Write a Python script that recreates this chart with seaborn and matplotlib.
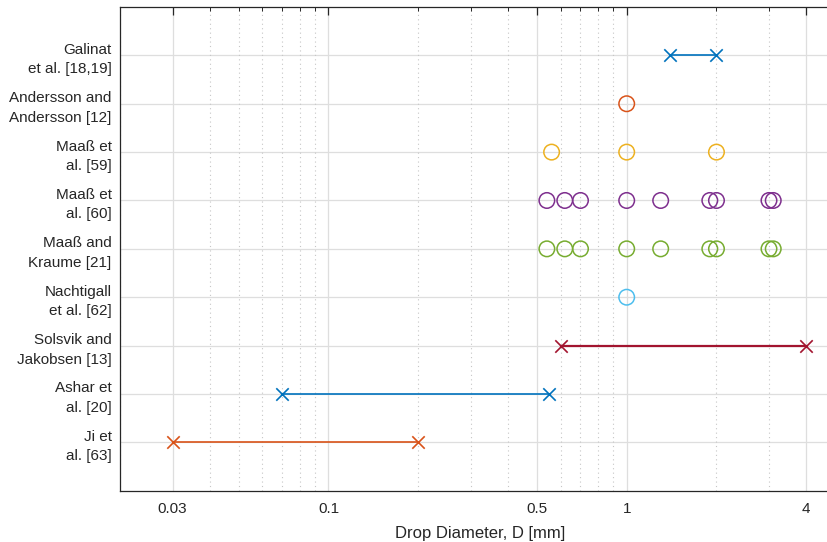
import matplotlib
matplotlib.use("Agg")
import matplotlib.pyplot as plt
import matplotlib.ticker as mticker
import numpy as np
import pandas as pd
import seaborn as sns

# ---------------- data ----------------
studies = ["Galinat\net al. [18,19]", "Andersson and\nAndersson [12]", "Maaß et\nal. [59]",
           "Maaß et\nal. [60]", "Maaß and\nKraume [21]", "Nachtigall\net al. [62]",
           "Solsvik and\nJakobsen [13]", "Ashar et\nal. [20]", "Ji et\nal. [63]"]

# ranges (drawn as line with x markers)
range_studies = ["Galinat\net al. [18,19]", "Solsvik and\nJakobsen [13]", "Ashar et\nal. [20]", "Ji et\nal. [63]"]
range_min = [1.4, 0.6, 0.07, 0.03]
range_max = [2.0, 4.0, 0.55, 0.2]

# discrete points (open circles)
andersson_d = [1.0]
maass59_d = [0.56, 1.0, 2.0]
maass60_d = [0.54, 0.62, 0.70, 1.0, 1.3, 1.9, 2.0, 3.0, 3.1]
maass_kraume_d = [0.54, 0.62, 0.70, 1.0, 1.3, 1.9, 2.0, 3.0, 3.1]
nachtigall_d = [1.0]
point_studies = {"Andersson and\nAndersson [12]": andersson_d,
                 "Maaß et\nal. [59]": maass59_d,
                 "Maaß et\nal. [60]": maass60_d,
                 "Maaß and\nKraume [21]": maass_kraume_d,
                 "Nachtigall\net al. [62]": nachtigall_d}

x_ticks = [0.03, 0.1, 0.5, 1, 4]
x_tick_labels = ["0.03", "0.1", "0.5", "1", "4"]
x_minor = [0.02, 0.04, 0.05, 0.06, 0.07, 0.08, 0.09, 0.2, 0.3, 0.4, 0.6, 0.7, 0.8, 0.9, 2, 3]

colors = {
    "Galinat\net al. [18,19]": (0.0, 0.447, 0.741),
    "Andersson and\nAndersson [12]": (0.850, 0.325, 0.098),
    "Maaß et\nal. [59]": (0.929, 0.694, 0.125),
    "Maaß et\nal. [60]": (0.494, 0.184, 0.556),
    "Maaß and\nKraume [21]": (0.466, 0.674, 0.188),
    "Nachtigall\net al. [62]": (0.301, 0.745, 0.933),
    "Solsvik and\nJakobsen [13]": (0.635, 0.078, 0.184),
    "Ashar et\nal. [20]": (0.0, 0.447, 0.741),
    "Ji et\nal. [63]": (0.850, 0.325, 0.098),
}

# ---------------- plot ----------------
sns.set_theme(style="white")
plt.rcParams['font.family'] = ['Liberation Sans', 'DejaVu Sans']

ypos = {s: len(studies) - i for i, s in enumerate(studies)}

fig = plt.figure(figsize=(8.27, 5.42), dpi=100)
ax = fig.add_axes([120 / 827, (542 - 490.7) / 542, (840 - 120) / 827, (490.7 - 7) / 542])

# grid lines
grid_major = "#dedede"
grid_minor = "#c6c6c6"
for yv in range(1, len(studies) + 1):
    ax.axhline(yv, color=grid_major, lw=0.9, zorder=0)
for xv in x_ticks:
    ax.axvline(xv, color=grid_major, lw=0.9, zorder=0)
for xv in x_minor:
    ax.axvline(xv, color=grid_minor, lw=0.8, ls=(0, (1, 3)), zorder=0)

# ranges
rows = []
for s, a, b in zip(range_studies, range_min, range_max):
    rows.append({"study": s, "D": a, "y": ypos[s]})
    rows.append({"study": s, "D": b, "y": ypos[s]})
df_range = pd.DataFrame(rows)
for s in range_studies:
    sub = df_range[df_range["study"] == s]
    lw = 1.6 if s.startswith("Solsvik") else 1.2
    sns.lineplot(data=sub, x="D", y="y", ax=ax, color=colors[s], linewidth=lw,
                 estimator=None, sort=False, legend=False, zorder=3)
    sns.scatterplot(data=sub, x="D", y="y", ax=ax, marker="x", s=80,
                    color=colors[s], linewidths=1.2, legend=False, zorder=4)

# points
rows = []
for s, vals in point_studies.items():
    for v in vals:
        rows.append({"study": s, "D": v, "y": ypos[s]})
df_pts = pd.DataFrame(rows)
for s in point_studies:
    sub = df_pts[df_pts["study"] == s]
    sns.scatterplot(data=sub, x="D", y="y", ax=ax, marker="o", s=125,
                    facecolors="none", edgecolors=[colors[s]], linewidths=1.1,
                    legend=False, zorder=3)

ax.set_xscale("log")
# right edge lies just beyond the canvas (cropped like the reference)
ax.set_xlim(0.02, 10 ** ((840 - 627) / 297.8))
ax.set_ylim(0, 10)

ax.xaxis.set_major_locator(mticker.FixedLocator(x_ticks))
ax.xaxis.set_major_formatter(mticker.FixedFormatter(x_tick_labels))
ax.xaxis.set_minor_locator(mticker.FixedLocator(x_minor))
ax.xaxis.set_minor_formatter(mticker.NullFormatter())
ax.set_yticks([ypos[s] for s in studies])
ax.set_yticklabels(studies, linespacing=1.5)

axis_col = "#262626"
ax.tick_params(axis="x", which="major", direction="in", length=6, width=0.9,
               color=axis_col, labelsize=11, labelcolor=axis_col, top=True, pad=8)
ax.tick_params(axis="x", which="minor", direction="in", length=3, width=0.7,
               color=axis_col, top=True)
ax.tick_params(axis="y", which="major", direction="in", length=6, width=0.9,
               color=axis_col, labelsize=11, labelcolor=axis_col, pad=6)
for sp in ["left", "bottom", "top", "right"]:
    ax.spines[sp].set_color(axis_col)
    ax.spines[sp].set_linewidth(0.9)

ax.set_xlabel("Drop Diameter, D [mm]", fontsize=12, color=axis_col, labelpad=7)
ax.set_ylabel("")

fig.savefig("out.png", dpi=100)
